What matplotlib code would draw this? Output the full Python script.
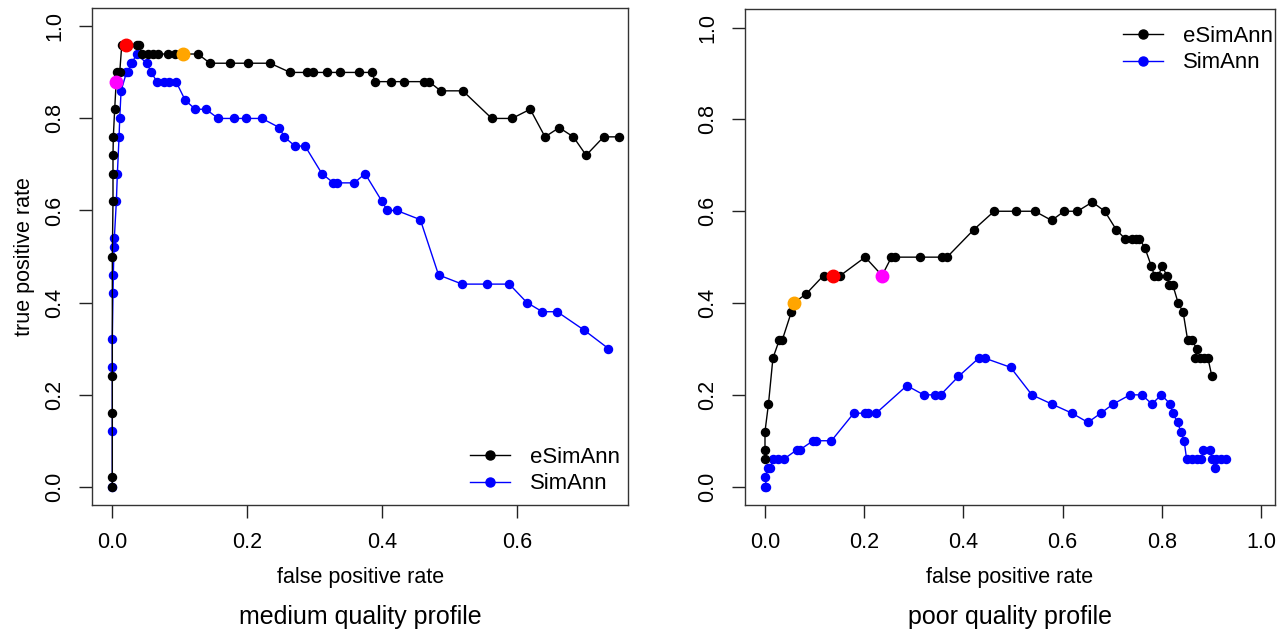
import matplotlib
matplotlib.use("Agg")
import matplotlib.pyplot as plt
from matplotlib.lines import Line2D

plt.rcParams['font.family'] = ['Liberation Sans', 'DejaVu Sans']

# ---------------- data: medium quality profile ----------------
med_e_fpr = [0, 0, 0, 0, 0, 0.001, 0.001, 0.001, 0.0015, 0.0035, 0.0065, 0.011, 0.014, 0.016,
             0.021, 0.036, 0.039, 0.044, 0.053, 0.061, 0.068, 0.082, 0.093, 0.105, 0.127, 0.145,
             0.175, 0.201, 0.234, 0.264, 0.289, 0.298, 0.318, 0.338, 0.366, 0.385, 0.390, 0.413,
             0.433, 0.462, 0.470, 0.487, 0.520, 0.563, 0.593, 0.620, 0.642, 0.663, 0.684, 0.703,
             0.729, 0.752]
med_e_tpr = [0, 0.02, 0.16, 0.24, 0.50, 0.62, 0.68, 0.72, 0.76, 0.82, 0.90, 0.90, 0.96, 0.96,
             0.96, 0.96, 0.96, 0.94, 0.94, 0.94, 0.94, 0.94, 0.94, 0.94, 0.94, 0.92,
             0.92, 0.92, 0.92, 0.90, 0.90, 0.90, 0.90, 0.90, 0.90, 0.90, 0.88, 0.88,
             0.88, 0.88, 0.88, 0.86, 0.86, 0.80, 0.80, 0.82, 0.76, 0.78, 0.76, 0.72,
             0.76, 0.76]
med_s_fpr = [0, 0, 0, 0, 0.001, 0.0015, 0.0025, 0.003, 0.006, 0.0075, 0.010, 0.011, 0.013,
             0.021, 0.024, 0.027, 0.029, 0.036, 0.051, 0.058, 0.066, 0.077, 0.084, 0.0945,
             0.108, 0.123, 0.139, 0.157, 0.180, 0.199, 0.222, 0.248, 0.255, 0.271, 0.286,
             0.311, 0.328, 0.333, 0.359, 0.375, 0.400, 0.408, 0.422, 0.457, 0.484, 0.519,
             0.556, 0.589, 0.615, 0.638, 0.660, 0.700, 0.736]
med_s_tpr = [0, 0.12, 0.26, 0.32, 0.42, 0.46, 0.52, 0.54, 0.62, 0.68, 0.76, 0.80, 0.86,
             0.90, 0.90, 0.92, 0.92, 0.94, 0.92, 0.90, 0.88, 0.88, 0.88, 0.88,
             0.84, 0.82, 0.82, 0.80, 0.80, 0.80, 0.80, 0.78, 0.76, 0.74, 0.74,
             0.68, 0.66, 0.66, 0.66, 0.68, 0.62, 0.60, 0.60, 0.58, 0.46, 0.44,
             0.44, 0.44, 0.40, 0.38, 0.38, 0.34, 0.30]
med_hi_fpr = [0.0055, 0.021, 0.105]
med_hi_tpr = [0.88, 0.96, 0.94]

# ---------------- data: poor quality profile ----------------
poor_e_fpr = [0, 0, 0, 0.007, 0.016, 0.029, 0.035, 0.053, 0.058, 0.083, 0.118, 0.138, 0.152,
              0.202, 0.236, 0.255, 0.263, 0.313, 0.356, 0.367, 0.421, 0.462, 0.506, 0.544,
              0.578, 0.603, 0.630, 0.660, 0.685, 0.708, 0.726, 0.740, 0.748, 0.755, 0.766,
              0.779, 0.785, 0.793, 0.801, 0.810, 0.815, 0.822, 0.833, 0.843, 0.852, 0.860,
              0.871, 0.867, 0.877, 0.886, 0.893, 0.901]
poor_e_tpr = [0.06, 0.08, 0.12, 0.18, 0.28, 0.32, 0.32, 0.38, 0.40, 0.42, 0.46, 0.46, 0.46,
              0.50, 0.46, 0.50, 0.50, 0.50, 0.50, 0.50, 0.56, 0.60, 0.60, 0.60,
              0.58, 0.60, 0.60, 0.62, 0.60, 0.56, 0.54, 0.54, 0.54, 0.54, 0.52,
              0.48, 0.46, 0.46, 0.48, 0.46, 0.44, 0.44, 0.40, 0.38, 0.32, 0.32,
              0.30, 0.28, 0.28, 0.28, 0.28, 0.24]
poor_s_fpr = [0, 0.003, 0.0, 0.006, 0.011, 0.016, 0.026, 0.038, 0.064, 0.070, 0.097, 0.103,
              0.134, 0.179, 0.201, 0.208, 0.224, 0.286, 0.320, 0.342, 0.354, 0.390, 0.431,
              0.443, 0.495, 0.538, 0.578, 0.619, 0.651, 0.677, 0.702, 0.736, 0.760, 0.780,
              0.799, 0.817, 0.822, 0.832, 0.838, 0.845, 0.850, 0.860, 0.870, 0.880, 0.884,
              0.897, 0.902, 0.907, 0.910, 0.920, 0.930]
poor_s_tpr = [0, 0, 0.02, 0.04, 0.04, 0.06, 0.06, 0.06, 0.08, 0.08, 0.10, 0.10,
              0.10, 0.16, 0.16, 0.16, 0.16, 0.22, 0.20, 0.20, 0.20, 0.24, 0.28,
              0.28, 0.26, 0.20, 0.18, 0.16, 0.14, 0.16, 0.18, 0.20, 0.20, 0.18,
              0.20, 0.18, 0.16, 0.14, 0.12, 0.10, 0.06, 0.06, 0.06, 0.06, 0.08,
              0.08, 0.06, 0.04, 0.06, 0.06, 0.06]
poor_hi_fpr = [0.058, 0.138, 0.236]
poor_hi_tpr = [0.40, 0.46, 0.46]

hi_colors = ['#FF00FF', '#FF0000', '#FFA500']   # magenta, red, orange (medium)
poor_hi_colors = ['#FFA500', '#FF0000', '#FF00FF']

series_names = ['eSimAnn', 'SimAnn']
yticks = [0.0, 0.2, 0.4, 0.6, 0.8, 1.0]
med_xticks = [0.0, 0.2, 0.4, 0.6]
poor_xticks = [0.0, 0.2, 0.4, 0.6, 0.8, 1.0]

W, H = 1286, 633
fig = plt.figure(figsize=(W / 100, H / 100), dpi=100)

def fx(px):
    return px / W

def fy(py):
    return 1 - py / H

axL = fig.add_axes([fx(92.3), fy(505), fx(628) - fx(92.3), fy(8) - fy(505)])
axR = fig.add_axes([fx(745), fy(505), fx(1275) - fx(745), fy(9.3) - fy(505)])

FS = 15.5
LFS = 15.9
ms = 5.8

def draw(ax, e_x, e_y, s_x, s_y, hx, hy, hc, xticks, xlim, title, ylabel):
    ax.plot(s_x, s_y, color='#0000FF', lw=1.0, marker='o', ms=ms, mec='#0000FF', mfc='#0000FF')
    ax.plot(e_x, e_y, color='black', lw=1.0, marker='o', ms=ms, mec='black', mfc='black')
    for x, y, c in zip(hx, hy, hc):
        ax.plot([x], [y], marker='o', ls='none', ms=9, mfc=c, mec=c, zorder=5)
    ax.set_xlim(*xlim)
    ax.set_ylim(-0.04, 1.04)
    ax.set_xticks(xticks)
    ax.set_xticklabels(['%.1f' % t for t in xticks])
    ax.set_yticks(yticks)
    ax.set_yticklabels(['%.1f' % t for t in yticks], rotation=90, va='center')
    ax.tick_params(axis='both', direction='out', length=9.5, width=1.0, labelsize=FS,
                   pad=10, color='#222222')
    for s in ax.spines.values():
        s.set_linewidth(1.0)
        s.set_color('#333333')
    ax.set_xlabel('false positive rate', fontsize=FS, va='center')
    ax.xaxis.set_label_coords(0.5, (505 - 578) / 497)
    if ylabel:
        ax.set_ylabel('true positive rate', fontsize=FS, va='center')
        ax.yaxis.set_label_coords((24 - 92.3) / 535.7, 0.5)
    ax.text(0.5, (505 - 617) / 497, title, transform=ax.transAxes, ha='center', va='center',
            fontsize=18)

draw(axL, med_e_fpr, med_e_tpr, med_s_fpr, med_s_tpr, med_hi_fpr, med_hi_tpr, hi_colors,
     med_xticks, (-0.0297, 0.7651), 'medium quality profile', True)
draw(axR, poor_e_fpr, poor_e_tpr, poor_s_fpr, poor_s_tpr, poor_hi_fpr, poor_hi_tpr,
     poor_hi_colors, poor_xticks, (-0.0403, 1.0282), 'poor quality profile', False)

handles = [Line2D([], [], color='black', lw=1.0, marker='o', ms=6.5),
           Line2D([], [], color='#0000FF', lw=1.0, marker='o', ms=6.5)]
fpx = LFS * 100 / 72
legkw = dict(frameon=False, fontsize=LFS, handlelength=40 / fpx, handletextpad=20 / fpx,
             labelspacing=0.24, borderpad=0, borderaxespad=0, loc='upper left')
fig.legend(handles, series_names, bbox_to_anchor=(fx(470), fy(447)),
           bbox_transform=fig.transFigure, **legkw)
fig.legend(handles, series_names, bbox_to_anchor=(fx(1123), fy(26)),
           bbox_transform=fig.transFigure, **legkw)

fig.savefig('out.png', dpi=100)
